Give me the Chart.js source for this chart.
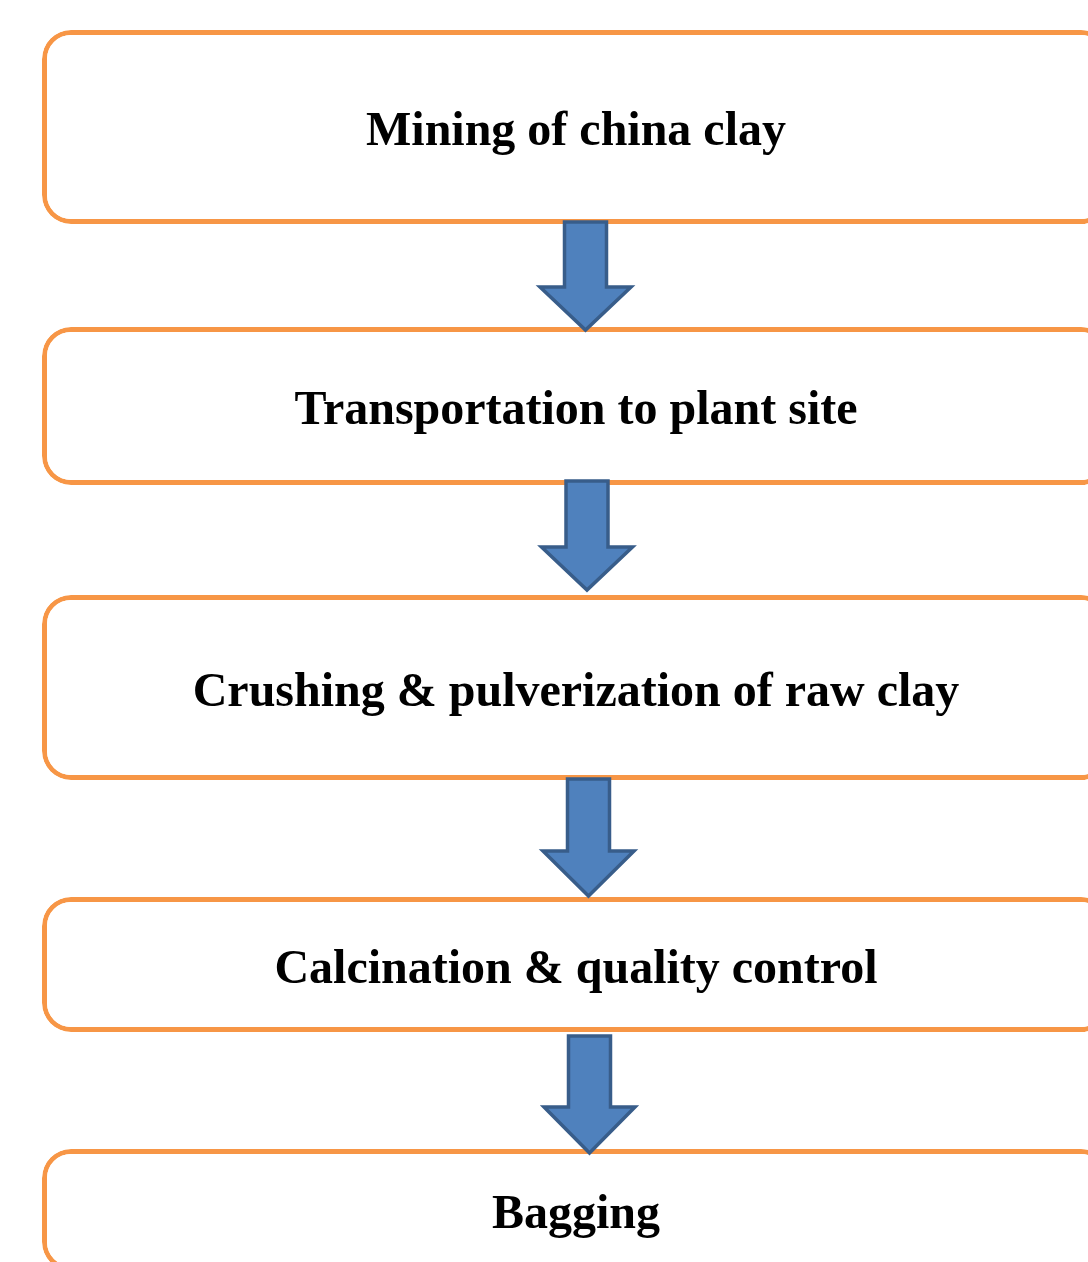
<!DOCTYPE html>
<html>
<head>
<meta charset="utf-8">
<script src="https://cdn.jsdelivr.net/npm/chart.js@4.4.1/dist/chart.umd.min.js"></script>
<style>
  html, body { margin: 0; padding: 0; background: #fff; }
  #wrap { width: 1088px; height: 1262px; }
</style>
</head>
<body>
<div id="wrap"><canvas id="flow" width="1088" height="1262"></canvas></div>
<script>
// Process steps, top to bottom
const steps = [
  'Mining of china clay',
  'Transportation to plant site',
  'Crushing & pulverization of raw clay',
  'Calcination & quality control',
  'Bagging'
];
// Box extents on the (reversed) vertical scale
const boxTop = [30, 327, 595, 897, 1149];
const boxBottom = [224, 485, 780, 1032, 1271];
// Connecting arrows between consecutive boxes
const arrowX = [585.5, 587, 588.5, 589.5];
const arrowFrom = [222, 481, 779, 1036];
const arrowHead = [287, 547, 851, 1107];
const arrowTo = [330, 590, 896, 1153];

const ORANGE = '#F79646';
const BLUE = '#4F81BD';
const BLUE_EDGE = '#385D8A';

const arrowsAndLabels = {
  id: 'arrowsAndLabels',
  afterDatasetsDraw(chart) {
    const { ctx, scales: { x, y } } = chart;
    ctx.save();
    // arrows
    arrowX.forEach((ax, i) => {
      const cx = x.getPixelForValue(ax);
      const top = y.getPixelForValue(arrowFrom[i]);
      const neck = y.getPixelForValue(arrowHead[i]);
      const tip = y.getPixelForValue(arrowTo[i]);
      const sw = 21, hw = 45.5;
      ctx.beginPath();
      ctx.moveTo(cx - sw, top);
      ctx.lineTo(cx + sw, top);
      ctx.lineTo(cx + sw, neck);
      ctx.lineTo(cx + hw, neck);
      ctx.lineTo(cx, tip);
      ctx.lineTo(cx - hw, neck);
      ctx.lineTo(cx - sw, neck);
      ctx.closePath();
      ctx.fillStyle = BLUE;
      ctx.fill();
      ctx.lineWidth = 3.5;
      ctx.lineJoin = 'miter';
      ctx.strokeStyle = BLUE_EDGE;
      ctx.stroke();
    });
    // labels
    ctx.fillStyle = '#000';
    ctx.font = 'bold 48px "Liberation Serif", "Times New Roman", serif';
    ctx.textAlign = 'center';
    ctx.textBaseline = 'alphabetic';
    steps.forEach((s, i) => {
      const cy = (y.getPixelForValue(boxTop[i]) + y.getPixelForValue(boxBottom[i])) / 2;
      ctx.fillText(s, x.getPixelForValue(576), cy + 18);
    });
    ctx.restore();
  }
};

new Chart(document.getElementById('flow'), {
  type: 'bar',
  data: {
    labels: steps,
    datasets: [{
      label: 'Steps',
      data: steps.map((s, i) => ({ x: 576, y: [boxTop[i], boxBottom[i]] })),
      backgroundColor: '#fff',
      borderColor: ORANGE,
      borderWidth: 5,
      borderRadius: 29,
      borderSkipped: false,
      inflateAmount: 0,
      barThickness: 1068,
      clip: false
    }]
  },
  options: {
    responsive: false,
    animation: false,
    layout: { padding: 0 },
    plugins: { legend: { display: false }, tooltip: { enabled: false } },
    scales: {
      x: { type: 'linear', min: 0, max: 1088, offset: false, display: false },
      y: { type: 'linear', min: 0, max: 1262, reverse: true, display: false }
    }
  },
  plugins: [arrowsAndLabels]
});
</script>
</body>
</html>
